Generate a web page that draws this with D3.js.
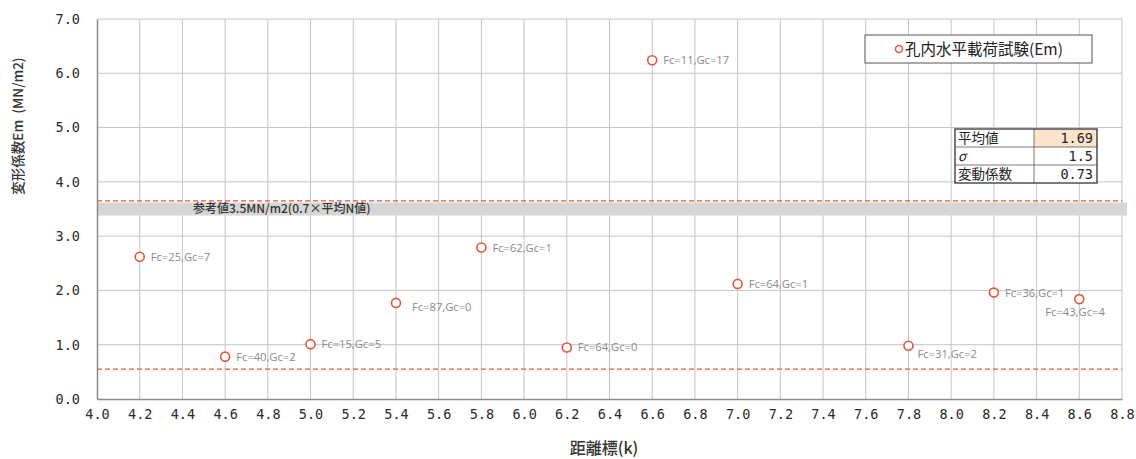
<!DOCTYPE html>
<html><head><meta charset="utf-8">
<script src="https://cdn.jsdelivr.net/npm/d3@7"></script>
<style>
html,body{margin:0;padding:0;background:#fff;}
svg{display:block;}
</style></head>
<body>
<svg id="chart" width="1136" height="459"></svg>
<script>
// ---- data ----
const distances = [4.2, 4.6, 5.0, 5.4, 5.8, 6.2, 6.6, 7.0, 7.8, 8.2, 8.6];
const emValues  = [2.62, 0.78, 1.01, 1.77, 2.79, 0.95, 6.24, 2.12, 0.98, 1.96, 1.84];
const pointLabels = ["Fc=25,Gc=7","Fc=40,Gc=2","Fc=15,Gc=5","Fc=87,Gc=0","Fc=62,Gc=1","Fc=64,Gc=0","Fc=11,Gc=17","Fc=64,Gc=1","Fc=31,Gc=2","Fc=36,Gc=1","Fc=43,Gc=4"];
const xTicks = [4.0,4.2,4.4,4.6,4.8,5.0,5.2,5.4,5.6,5.8,6.0,6.2,6.4,6.6,6.8,7.0,7.2,7.4,7.6,7.8,8.0,8.2,8.4,8.6,8.8];
const yTicks = [0,1,2,3,4,5,6,7];
const refDashed = [3.65, 0.55];
const refBandValue = 3.5;
const refBandLabel = "参考値3.5MN/m2(0.7×平均N値)";
const statNames = ["平均値","σ","変動係数"];
const statValues = ["1.69","1.5","0.73"];
const seriesName = "孔内水平載荷試験(Em)";
const xTitle = "距離標(k)";
const yTitle = "変形係数Em (MN/m2)";

// label placement style (not data)
const labelPlacement = ["r","r","r","rd","r","r","r","r","rd","r","below"];

// ---- layout ----
const svg = d3.select("#chart");
const L = 97, R = 1122, T = 19, B = 399;
const x = d3.scaleLinear().domain([4.0, 8.8]).range([L, R]);
const y = d3.scaleLinear().domain([0, 7]).range([B, T]);
const red = "#e4563c";
const gridCol = "#c4c4c4";
const tickFont = "'DejaVu Sans Mono', monospace";
const cjk = "'Noto Sans CJK JP', sans-serif";

// gridlines
const g = svg.append("g");
g.selectAll(".vg").data(xTicks.slice(1)).join("line")
  .attr("x1", d => x(d)).attr("x2", d => x(d)).attr("y1", T).attr("y2", B)
  .attr("stroke", gridCol).attr("stroke-width", 1);
g.selectAll(".hg").data(yTicks.slice(1)).join("line")
  .attr("x1", L).attr("x2", R).attr("y1", d => y(d)).attr("y2", d => y(d))
  .attr("stroke", gridCol).attr("stroke-width", 1);

// reference band
const bandTop = y(refBandValue) - 6.5;
svg.append("rect").attr("x", L).attr("y", bandTop).attr("width", R - L + 5).attr("height", 13)
  .attr("fill", "#d6d6d6");
svg.append("text").attr("x", 193).attr("y", y(refBandValue) + 4)
  .attr("font-family", cjk).attr("font-size", 12).attr("font-weight", 500).attr("fill", "#333")
  .text(refBandLabel);

// dashed reference lines
svg.selectAll(".ref").data(refDashed).join("line")
  .attr("x1", L).attr("x2", R).attr("y1", d => y(d)).attr("y2", d => y(d))
  .attr("stroke", red).attr("stroke-width", 1.1).attr("stroke-dasharray", "5,3");

// axes
const xAxis = d3.axisBottom(x).tickValues(xTicks).tickSize(0).tickFormat(d3.format(".1f"));
const yAxis = d3.axisLeft(y).tickValues(yTicks).tickSize(0).tickFormat(d3.format(".1f"));
const gx = svg.append("g").attr("transform", `translate(0,${B})`).call(xAxis);
gx.select(".domain").attr("stroke", "#8a8a8a").attr("stroke-width", 1.5);
gx.selectAll("text").attr("font-family", tickFont).attr("font-size", 13.5).attr("fill", "#2a2a2a")
  .attr("dy", "0").attr("y", 20);
const gy = svg.append("g").attr("transform", `translate(${L},0)`).call(yAxis);
gy.select(".domain").attr("stroke", "#8a8a8a").attr("stroke-width", 1.5);
gy.selectAll("text").attr("font-family", tickFont).attr("font-size", 13.5).attr("fill", "#2a2a2a")
  .attr("x", -17).attr("dy", "0.32em");

// axis titles
svg.append("text").attr("x", 604).attr("y", 454).attr("text-anchor", "middle")
  .attr("font-family", cjk).attr("font-size", 16).attr("font-weight", 500).attr("fill", "#333").text(xTitle);
svg.append("text").attr("transform", "translate(23,126) rotate(-90)").attr("text-anchor", "middle")
  .attr("font-family", cjk).attr("font-size", 13.5).attr("font-weight", 500).attr("fill", "#333")
  .attr("xml:space", "preserve").text(yTitle.replace(" ", "  "));

// points
const pts = distances.map((d, i) => ({ x: d, y: emValues[i], label: pointLabels[i], p: labelPlacement[i] }));
svg.selectAll(".pt").data(pts).join("circle")
  .attr("cx", d => x(d.x)).attr("cy", d => y(d.y)).attr("r", 4.5)
  .attr("fill", "#fff").attr("stroke", red).attr("stroke-width", 1.6);
svg.selectAll(".pl").data(pts).join("text")
  .attr("font-family", "'Open Sans', sans-serif").attr("font-size", 11.2).attr("fill", "#8a8a8a")
  .attr("x", function(d){
    const base = x(d.x);
    if (d.p === "below") return base - 34;
    if (d.p === "rd") return base + (d.x === 5.4 ? 16 : 9);
    return base + 11;
  })
  .attr("y", function(d){
    const base = y(d.y);
    if (d.p === "below") return base + 17;
    if (d.p === "rd") return base + (d.x === 5.4 ? 8 : 12);
    return base + 4;
  })
  .text(d => d.label);

// legend
svg.append("rect").attr("x", 865).attr("y", 35).attr("width", 227).attr("height", 28)
  .attr("fill", "#fff").attr("stroke", "#555").attr("stroke-width", 1);
svg.append("circle").attr("cx", 899).attr("cy", 49).attr("r", 3.5)
  .attr("fill", "#fff").attr("stroke", red).attr("stroke-width", 1.5);
svg.append("text").attr("x", 905).attr("y", 55)
  .attr("font-family", cjk).attr("font-size", 15.5).attr("fill", "#222").text(seriesName);

// stats table
const tx = 955, tw1 = 79, tw2 = 63, rh = 18, ty = 129;
svg.append("rect").attr("x", tx + tw1).attr("y", ty).attr("width", tw2).attr("height", rh).attr("fill", "#fbe3cc");
svg.append("rect").attr("x", tx).attr("y", ty + rh).attr("width", tw1 + tw2).attr("height", rh * 2).attr("fill", "#fff");
svg.append("rect").attr("x", tx).attr("y", ty).attr("width", tw1).attr("height", rh).attr("fill", "#fff");
statNames.forEach((n, i) => {
  if (i > 0) svg.append("line").attr("x1", tx).attr("x2", tx + tw1 + tw2)
    .attr("y1", ty + rh * i).attr("y2", ty + rh * i).attr("stroke", "#555").attr("stroke-width", 0.8);
});
svg.append("line").attr("x1", tx + tw1).attr("x2", tx + tw1).attr("y1", ty).attr("y2", ty + rh * 3)
  .attr("stroke", "#555").attr("stroke-width", 0.8);
svg.append("rect").attr("x", tx).attr("y", ty).attr("width", tw1 + tw2).attr("height", rh * 3)
  .attr("fill", "none").attr("stroke", "#333").attr("stroke-width", 1.3);
svg.selectAll(".sn").data(statNames).join("text")
  .attr("x", tx + 3).attr("y", (d, i) => ty + rh * i + 14)
  .attr("font-family", cjk).attr("font-size", 13.5).attr("fill", "#222")
  .attr("font-style", d => d === "σ" ? "italic" : null).text(d => d);
svg.selectAll(".sv").data(statValues).join("text")
  .attr("x", tx + tw1 + tw2 - 4).attr("y", (d, i) => ty + rh * i + 14).attr("text-anchor", "end")
  .attr("font-family", tickFont).attr("font-size", 13.5).attr("fill", "#222").text(d => d);
</script>
</body></html>
